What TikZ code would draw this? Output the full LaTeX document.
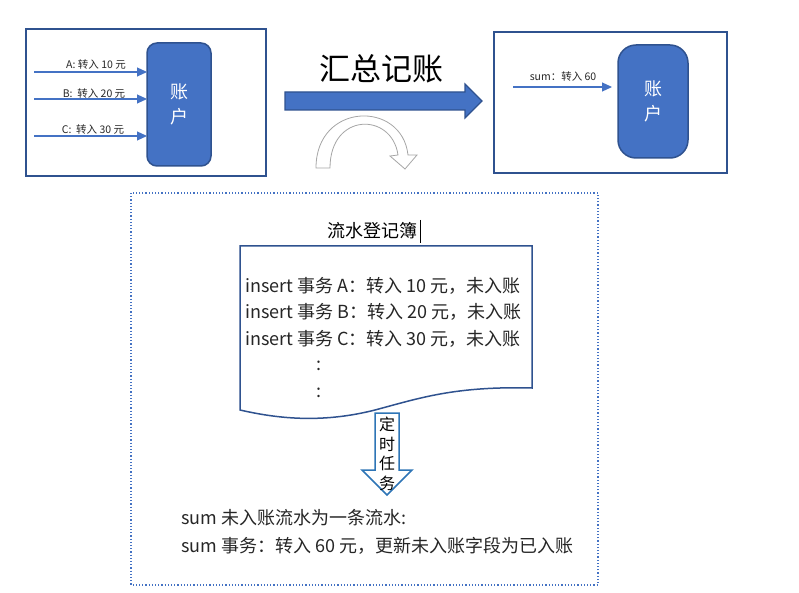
\documentclass[tikz,border=0pt]{standalone}
\usepackage{fontspec}
\setmainfont{Noto Sans CJK SC}
\usetikzlibrary{arrows.meta}
\definecolor{fillblue}{HTML}{4472C4}
\definecolor{edgeblue}{HTML}{2F528F}
\definecolor{lightblue}{HTML}{2E75B6}
\definecolor{graycurve}{HTML}{A6A6A6}
\tikzset{
  framebox/.style={draw=edgeblue,line width=2pt},
  account/.style={draw=edgeblue,fill=fillblue,line width=1.5pt},
  flow/.style={draw=fillblue,line width=1.1pt,-{Triangle[length=10pt,width=9pt]}},
  small/.style={font=\fontsize{10.5}{12}\selectfont,text=black!85,inner sep=0pt},
  body/.style={font=\fontsize{18}{22}\selectfont,text=black!85,inner sep=0pt,anchor=west},
}
\begin{document}
\begin{tikzpicture}[x=1pt,y=-1pt]
\useasboundingbox (0,0) rectangle (799,593);
% left box
\draw[framebox] (26,29) rectangle (266,176);
\draw[account,rounded corners=10pt] (147,43) rectangle (211,166);
\node[font=\fontsize{18}{25}\selectfont,text=white,align=center] (acc1) at (179,104) {账\\户};
\coordinate (a1) at (34,72);  \coordinate (a1e) at (147,72);
\coordinate (b1) at (34,99);  \coordinate (b1e) at (147,99);
\coordinate (c1) at (34,136); \coordinate (c1e) at (147,136);
\draw[flow] (a1) -- (a1e);
\draw[flow] (b1) -- (b1e);
\draw[flow] (c1) -- (c1e);
\node[small] (la) at (96,65) {A: 转入 10 元};
\node[small] (lb) at (94,94) {B:\ \ 转入 20 元};
\node[small] (lc) at (93,130) {C:\ \ 转入 30 元};
% middle
\node[font=\fontsize{31}{34}\selectfont,inner sep=0pt] (title) at (381,69) {汇总记账};
\draw[account,line width=1.2pt] (285,92) -- (465,92) -- (465,84) -- (482,101) -- (465,118) -- (465,110) -- (285,110) -- cycle;
\draw[graycurve,line width=0.8pt,fill=white]
  (316,168) .. controls (316,102) and (402,100) .. (408,155)
  -- (417,155) -- (405,169) -- (390,156) -- (398,155)
  .. controls (392,112) and (330,112) .. (330,168) -- cycle;
% right box
\draw[framebox] (494,32) rectangle (727,173);
\draw[account,rounded corners=18pt] (618,45) rectangle (688,158);
\node[font=\fontsize{18}{25}\selectfont,text=white,align=center] (acc2) at (653,101) {账\\户};
\coordinate (s1) at (513,87); \coordinate (s1e) at (612,87);
\draw[flow] (s1) -- (s1e);
\node[small] (ls) at (563,77) {sum：转入 60};
% dotted frame
\draw[fillblue,line width=1.2pt,dotted] (131,193) rectangle (598,585);
\node[font=\fontsize{18}{22}\selectfont,inner sep=0pt] (ledger) at (372,231) {流水登记簿};
\draw[black,line width=0.8pt] (420,220) -- (420,243);
% document
\draw[edgeblue,line width=1.5pt,fill=white] (240,246) -- (532,246) -- (532,388)
  .. controls (455,386) and (420,398) .. (375,410)
  .. controls (320,424) and (275,418) .. (240,410) -- cycle;
\node[body] (l1) at (245,286) {insert 事务 A：转入 10 元，未入账};
\node[body] (l2) at (245,312) {insert 事务 B：转入 20 元，未入账};
\node[body] (l3) at (245,339) {insert 事务 C：转入 30 元，未入账};
\node[body] (d1) at (316,366) {:};
\node[body] (d2) at (316,393) {:};
% down arrow
\draw[lightblue,line width=1.5pt,fill=white] (375,413) -- (399,413) -- (399,470) -- (412,470) -- (387,495) -- (362,470) -- (375,470) -- cycle;
\node[font=\fontsize{16}{19.5}\selectfont,align=center,inner sep=0pt] (task) at (387,454) {定\\时\\任\\务};
% result text
\node[body] (r1) at (181,518) {sum 未入账流水为一条流水:};
\node[body] (r2) at (181,546) {sum 事务：转入 60 元，更新未入账字段为已入账};
\end{tikzpicture}
\end{document}
